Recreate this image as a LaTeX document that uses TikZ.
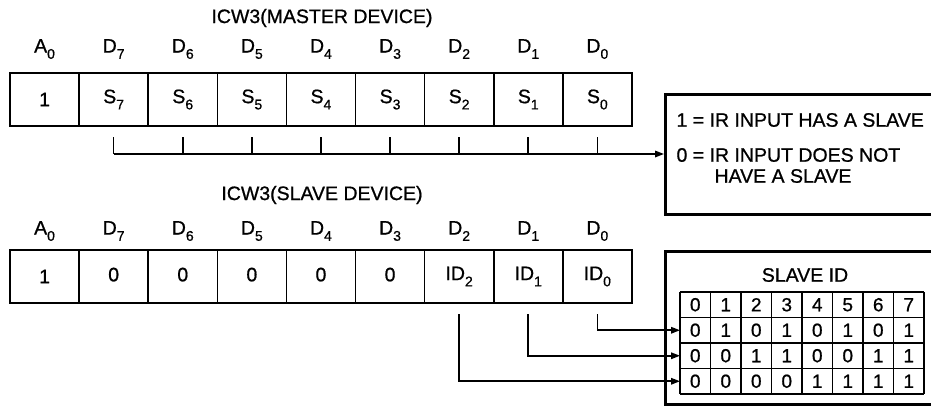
\documentclass[tikz,border=0pt]{standalone}
\usepackage{fontspec}
\setmainfont[FakeBold=0.8]{Liberation Sans}
\usetikzlibrary{arrows.meta,calc}
\newcommand\subs[1]{\raisebox{-0.32em}{\fontsize{14}{14}\selectfont #1}}
\begin{document}
\begin{tikzpicture}[x=1pt,y=-1pt,font=\fontsize{19.5}{21}\selectfont,
  cell/.style={draw,line width=1.6pt,minimum width=69.1pt,minimum height=53pt,inner sep=0pt,outer sep=0pt,anchor=north west},
  outer/.style={draw,line width=2.8pt},
  conn/.style={line width=1.6pt},
  tip/.style={-{Triangle[length=9pt,width=6.5pt]}},
  gridtxt/.style={font=\fontsize{19}{19}\selectfont,inner sep=0pt},
  gridline/.style={line width=1.6pt}]
\clip (0,0) rectangle (931,405);
\fill[white] (0,0) rectangle (931,405);
% ---------- master ----------
\node (mt) at (322,18) {ICW3(MASTER DEVICE)};
\foreach \i/\h/\v in {0/A\subs{0}/1,1/D\subs{7}/S\subs{7},2/D\subs{6}/S\subs{6},3/D\subs{5}/S\subs{5},4/D\subs{4}/S\subs{4},5/D\subs{3}/S\subs{3},6/D\subs{2}/S\subs{2},7/D\subs{1}/S\subs{1},8/D\subs{0}/S\subs{0}}{
  \node[cell] (m\i) at ({10+69.1*\i},73) {\v};
  \node (mh\i) at ({44.55+69.1*\i},49) {\h};
}
\draw[line width=2.8pt] (m0.north west) rectangle (m8.south east);
\node[outer,minimum width=290pt,minimum height=120pt,anchor=north west,inner sep=0pt] (box1) at (664,93) {};
\node[anchor=west] (b1a) at (673,120) {1 = IR INPUT HAS A SLAVE};
\node[anchor=west] (b1b) at (673,155) {0 = IR INPUT DOES NOT};
\node[anchor=west] (b1c) at (711,176) {HAVE A SLAVE};
\coordinate (busstart) at ($(m1.south)+(0,28)$);
\foreach \i in {1,...,8}{
  \draw[conn] ($(m\i.south)+(0,11)$) -- ($(m\i.south)+(0,28)$);
}
\draw[conn,tip] (busstart) -- (box1.west |- busstart);
% ---------- slave ----------
\node (st) at (322,195) {ICW3(SLAVE DEVICE)};
\foreach \i/\h/\v in {0/A\subs{0}/\raisebox{-4pt}{1},1/D\subs{7}/\raisebox{4pt}{0},2/D\subs{6}/\raisebox{4pt}{0},3/D\subs{5}/\raisebox{4pt}{0},4/D\subs{4}/\raisebox{4pt}{0},5/D\subs{3}/\raisebox{4pt}{0},6/D\subs{2}/ID\subs{2},7/D\subs{1}/ID\subs{1},8/D\subs{0}/ID\subs{0}}{
  \node[cell] (s\i) at ({10+69.1*\i},250) {\v};
  \node (sh\i) at ({44.55+69.1*\i},231) {\h};
}
\draw[line width=2.8pt] (s0.north west) rectangle (s8.south east);
\node[outer,minimum width=290pt,minimum height=153pt,anchor=north west,inner sep=0pt] (box2) at (664,250) {};
\node (sid) at (805,275) {SLAVE ID};
% grid rows
\foreach \j in {0,...,3}{
  \node[minimum width=244pt,minimum height=25.5pt,inner sep=0pt,outer sep=0pt,anchor=north west] (r\j) at (680,{292+25.5*\j}) {};
}
\foreach \c in {0,...,8}{
  \draw[gridline] ({680+30.5*\c},292) -- ({680+30.5*\c},394);
}
\foreach \j in {0,...,4}{
  \draw[gridline] (680,{292+25.5*\j}) -- (924,{292+25.5*\j});
}
\foreach \j/\row in {0/{0,1,2,3,4,5,6,7},1/{0,1,0,1,0,1,0,1},2/{0,0,1,1,0,0,1,1},3/{0,0,0,0,1,1,1,1}}{
  \foreach \d [count=\c from 0] in \row {
    \node[gridtxt] at ({695.25+30.5*\c},{304.75+25.5*\j}) {\d};
  }
}
\draw[conn,tip] ($(s8.south)+(0,11)$) |- (r1.west);
\draw[conn,tip] ($(s7.south)+(0,11)$) |- (r2.west);
\draw[conn,tip] ($(s6.south)+(0,11)$) |- (r3.west);
\end{tikzpicture}
\end{document}
